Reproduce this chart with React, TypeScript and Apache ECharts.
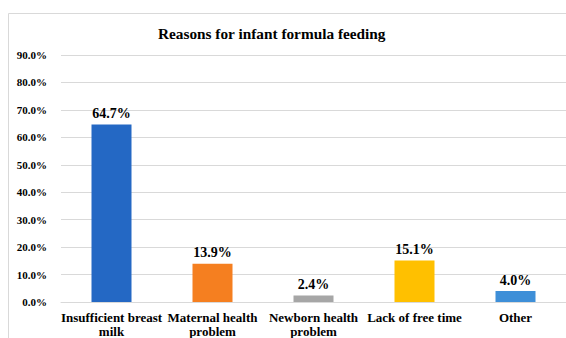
import React, { useEffect, useRef } from "react";
import * as echarts from "echarts";

const categories = [
  "Insufficient breast\nmilk",
  "Maternal health\nproblem",
  "Newborn health\nproblem",
  "Lack of free time",
  "Other",
];
const values = [64.7, 13.9, 2.4, 15.1, 4.0];
const barColors = ["#2468C4", "#F57F20", "#A6A6A6", "#FFC000", "#3E8FD8"];
const yTicks = { min: 0, max: 90, interval: 10 };

export default function App() {
  const ref = useRef<HTMLDivElement>(null);
  useEffect(() => {
    document.body.style.margin = "0";
    const chart = echarts.init(ref.current!, null, { renderer: "svg" });
    const font = "'Liberation Serif', 'Times New Roman', serif";
    chart.setOption({
      animation: false,
      backgroundColor: "#ffffff",
      title: {
        text: "Reasons for infant formula feeding",
        left: 153,
        top: 21,
        textStyle: { fontFamily: font, fontWeight: "bold", fontSize: 15.3, color: "#000" },
      },
      graphic: [
        {
          type: "rect",
          shape: { x: 8.5, y: 13.5, width: 700, height: 500 },
          style: { fill: "none", stroke: "#d9d9d9", lineWidth: 1 },
          silent: true,
        },
      ],
      grid: { left: 61, top: 55, height: 248, width: 516.5 },
      xAxis: {
        type: "category",
        data: categories,
        axisLine: { lineStyle: { color: "#d9d9d9" } },
        axisTick: { show: false },
        axisLabel: {
          interval: 0,
          margin: 8,
          fontFamily: font,
          fontWeight: "bold",
          fontSize: 13,
          lineHeight: 14,
          color: "#000",
        },
      },
      yAxis: {
        type: "value",
        min: yTicks.min,
        max: yTicks.max,
        interval: yTicks.interval,
        axisLine: { show: false },
        axisTick: { show: false },
        splitLine: { lineStyle: { color: "#d9d9d9" } },
        axisLabel: {
          margin: 14,
          fontFamily: font,
          fontWeight: "bold",
          fontSize: 11,
          color: "#000",
          formatter: (v: number) => v.toFixed(1) + "%",
        },
      },
      series: [
        {
          type: "bar",
          barWidth: 40,
          data: values.map((v, i) => ({ value: v, itemStyle: { color: barColors[i] } })),
          label: {
            show: true,
            position: "top",
            distance: 4,
            fontFamily: font,
            fontWeight: "bold",
            fontSize: 14,
            color: "#000",
            formatter: (p: any) => p.value.toFixed(1) + "%",
          },
        },
      ],
    });
    return () => chart.dispose();
  }, []);
  return <div ref={ref} style={{ width: 566, height: 338 }} />;
}
